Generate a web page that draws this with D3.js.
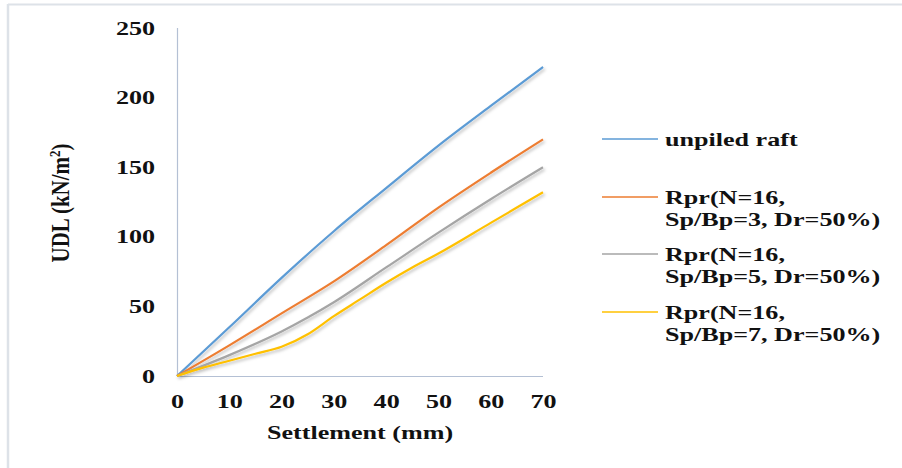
<!DOCTYPE html>
<html>
<head>
<meta charset="utf-8">
<script src="https://cdn.jsdelivr.net/npm/d3@7"></script>
<style>
  body { margin: 0; background: #fff; }
  svg text { font-family: "Liberation Serif", "Times New Roman", serif; font-weight: bold; fill: #111; }
</style>
</head>
<body>
<svg id="chart" width="902" height="468"></svg>
<script>
// Settlement (mm) vs UDL (kN/m2)
const unpiled = [[0,0],[10,35],[20,70.5],[30,104],[40,135],[50,165.5],[60,194],[70,222]];
const sp3 = [[0,0],[10,22],[20,45],[30,68],[40,94],[50,121],[60,146],[70,170]];
const sp5 = [[0,0],[10,15],[20,32],[25,42],[30,53],[40,78],[50,103],[60,127],[70,150]];
const sp7 = [[0,0],[5,6],[10,11],[15,16],[20,21],[25,30],[30,43],[35,55],[40,67],[45,78],[50,88],[60,110],[70,132]];

const xTicks = [0, 10, 20, 30, 40, 50, 60, 70];
const yTicks = [0, 50, 100, 150, 200, 250];

const series = [
  { name: ['unpiled raft'], data: unpiled, color: '#5b9bd5' },
  { name: ['Rpr(N=16,', 'Sp/Bp=3, Dr=50%)'], data: sp3, color: '#ed7d31' },
  { name: ['Rpr(N=16,', 'Sp/Bp=5, Dr=50%)'], data: sp5, color: '#a5a5a5' },
  { name: ['Rpr(N=16,', 'Sp/Bp=7, Dr=50%)'], data: sp7, color: '#ffc000' }
];

// the source figure is stretched sideways, so text is widened too
const SX = 1.45;
const FS = 18;

const svg = d3.select('#chart');

// partial frame (top + left edges only visible)
svg.append('line').attr('x1', 8).attr('x2', 902).attr('y1', 4.5).attr('y2', 4.5)
  .attr('stroke', '#dde2e8').attr('stroke-width', 2);
svg.append('line').attr('x1', 8).attr('x2', 8).attr('y1', 4).attr('y2', 468)
  .attr('stroke', '#dde2e8').attr('stroke-width', 2.5);

const x = d3.scaleLinear().domain([0, 70]).range([177, 543]);
const y = d3.scaleLinear().domain([0, 250]).range([376, 28]);

// soft shadow under the lines
const defs = svg.append('defs');
const f = defs.append('filter').attr('id', 'shadow')
  .attr('x', '-10%').attr('y', '-10%').attr('width', '130%').attr('height', '130%');
f.append('feDropShadow').attr('dx', 1.5).attr('dy', 2).attr('stdDeviation', 1.5)
  .attr('flood-color', '#000').attr('flood-opacity', 0.25);

function wideText(sel, px, py, anchor, txt) {
  return sel.append('text')
    .attr('transform', `translate(${px},${py}) scale(${SX},1)`)
    .attr('text-anchor', anchor)
    .attr('font-size', FS)
    .text(txt);
}

// axes
const xAxis = svg.append('g').attr('transform', `translate(0,${y(0)})`)
  .call(d3.axisBottom(x).tickValues(xTicks).tickSize(0));
const yAxis = svg.append('g').attr('transform', `translate(${x(0)},0)`)
  .call(d3.axisLeft(y).tickValues(yTicks).tickSize(0));
[xAxis, yAxis].forEach(a => {
  a.select('.domain').attr('stroke', '#b4c0d4').attr('stroke-width', 1.2);
  a.selectAll('text').attr('font-size', FS).attr('font-family', '"Liberation Serif", serif')
    .attr('font-weight', 'bold').attr('fill', '#111');
});
xAxis.select('.domain').attr('d', `M${x(0)},0.5H${x(70)}`);
yAxis.select('.domain').attr('d', `M0.5,${y(0)}V${y(250)}`);
xAxis.selectAll('.tick text').attr('dy', null).attr('y', 32)
  .attr('transform', `scale(${SX},1)`);
yAxis.selectAll('.tick text').attr('dy', '0.34em').attr('x', -22 / SX)
  .attr('transform', `scale(${SX},1)`);

// axis titles
wideText(svg, 360, 439, 'middle', 'Settlement (mm)');
const yt = svg.append('text').attr('transform', 'translate(69,203) rotate(-90) scale(1,1.15)')
  .attr('text-anchor', 'middle').attr('font-size', 21);
yt.append('tspan').text('UDL (kN/m');
yt.append('tspan').attr('font-size', 13).attr('dy', -8).text('2');
yt.append('tspan').attr('dy', 8).text(')');

// lines
const line = d3.line().x(d => x(d[0])).y(d => y(d[1])).curve(d3.curveMonotoneX);
svg.append('g').attr('filter', 'url(#shadow)')
  .selectAll('path').data(series).join('path')
  .attr('d', d => line(d.data))
  .attr('fill', 'none')
  .attr('stroke', d => d.color)
  .attr('stroke-width', 2.2);

// legend
const legY = [139, 197, 254, 312];
const leg = svg.append('g');
series.forEach((s, i) => {
  leg.append('line').attr('x1', 602).attr('x2', 658).attr('y1', legY[i]).attr('y2', legY[i])
    .attr('stroke', s.color).attr('stroke-width', 1.5);
  s.name.forEach((t, j) => {
    wideText(leg, 665, legY[i] + 7 + j * 22, 'start', t);
  });
});
</script>
</body>
</html>
